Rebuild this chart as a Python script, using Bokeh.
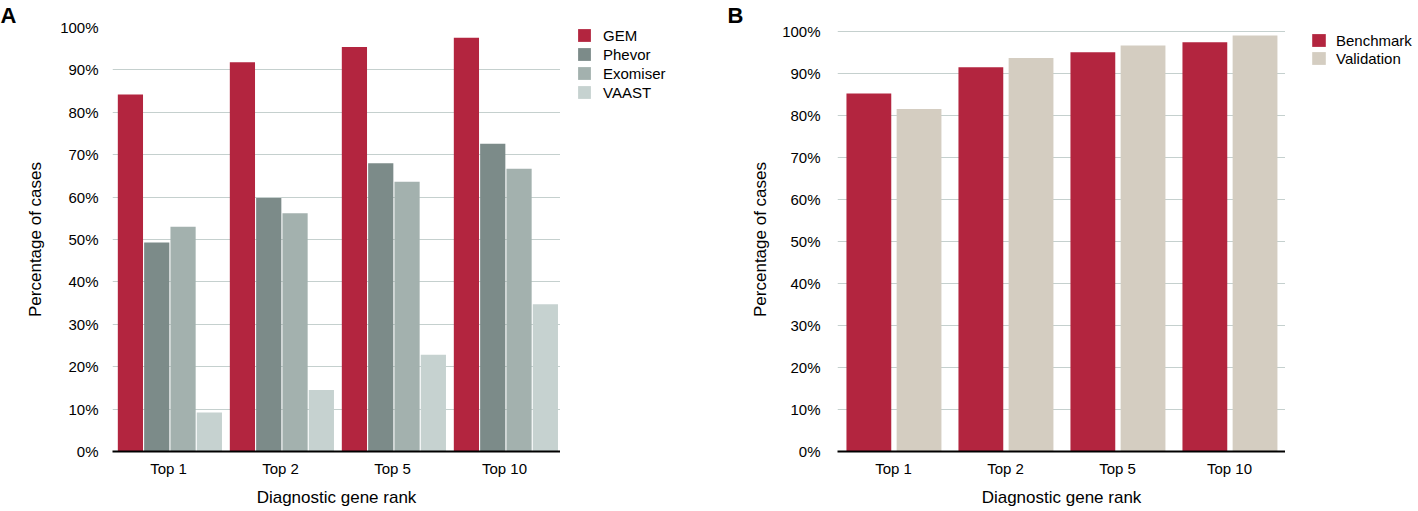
from bokeh.plotting import figure
from bokeh.models import (ColumnDataSource, FactorRange, Legend, LegendItem,
                          FixedTicker, Range1d, Title)
from bokeh.transform import dodge
from bokeh.layouts import row
from bokeh.embed import file_html
from bokeh.resources import INLINE

# ---------------- data ----------------
ranks = ["Top 1", "Top 2", "Top 5", "Top 10"]

# Panel A
gem = [84.2, 91.8, 95.4, 97.6]
phevor = [49.3, 59.8, 68.0, 72.6]
exomiser = [53.0, 56.2, 63.6, 66.7]
vaast = [9.2, 14.5, 22.8, 34.7]

# Panel B
benchmark = [85.2, 91.4, 95.0, 97.4]
validation = [81.5, 93.6, 96.6, 99.0]

y_ticks = [0, 10, 20, 30, 40, 50, 60, 70, 80, 90, 100]
y_tick_labels = ["0%", "10%", "20%", "30%", "40%", "50%", "60%", "70%",
                 "80%", "90%", "100%"]

x_title = "Diagnostic gene rank"
y_title = "Percentage of cases"

# ---------------- style ----------------
FONT = "Liberation Sans"
RED = "#B3253F"
PHEVOR = "#7C8B89"
EXOMISER = "#A3B1AE"
VAAST = "#C6D2D0"
VALID = "#D4CDC1"
GRID = "#C5D0CE"
FIG_H = 509
TOP = 25
BOTTOM = 58
FRAME_H = FIG_H - TOP - BOTTOM


def style(p, ytick_standoff, ylab_standoff, xlab_standoff):
    p.xgrid.grid_line_color = None
    p.ygrid.grid_line_color = GRID
    p.ygrid.grid_line_width = 1
    p.outline_line_color = None
    p.background_fill_color = "white"
    p.border_fill_color = "white"

    xa = p.xaxis[0]
    xa.axis_line_color = "black"
    xa.axis_line_width = 2
    xa.major_tick_line_color = None
    xa.minor_tick_line_color = None
    xa.major_tick_out = 0
    xa.major_tick_in = 0
    xa.major_label_text_font = FONT
    xa.major_label_text_font_size = "15px"
    xa.major_label_text_color = "black"
    xa.major_label_standoff = 8
    xa.axis_label = x_title
    xa.axis_label_text_font = FONT
    xa.axis_label_text_font_size = "17px"
    xa.axis_label_text_font_style = "normal"
    xa.axis_label_text_color = "black"
    xa.axis_label_standoff = xlab_standoff

    ya = p.yaxis[0]
    ya.axis_line_color = None
    ya.major_tick_line_color = None
    ya.minor_tick_line_color = None
    ya.major_tick_out = 0
    ya.major_tick_in = 0
    ya.ticker = FixedTicker(ticks=y_ticks)
    ya.major_label_overrides = {t: l for t, l in zip(y_ticks, y_tick_labels)}
    ya.major_label_text_font = FONT
    ya.major_label_text_font_size = "15px"
    ya.major_label_text_color = "black"
    ya.major_label_standoff = ytick_standoff
    ya.axis_label = y_title
    ya.axis_label_text_font = FONT
    ya.axis_label_text_font_size = "17px"
    ya.axis_label_text_font_style = "normal"
    ya.axis_label_text_color = "black"
    ya.axis_label_standoff = ylab_standoff


def panel_letter(p, letter, offset, standoff):
    p.add_layout(Title(text=letter, align="left", offset=offset,
                       standoff=standoff, text_font=FONT,
                       text_font_size="22px", text_font_style="bold",
                       text_color="black"), "above")


def legend_figure(width, src, entries, loc, glyph_w, spacing, standoff):
    # a narrow plot that only carries the legend, next to its chart
    f = figure(width=width, height=FIG_H, x_range=FactorRange(*ranks),
               y_range=Range1d(-2, -1), output_backend="svg",
               toolbar_location=None, x_axis_location=None,
               y_axis_location=None, min_border_left=0, min_border_right=0,
               min_border_top=TOP, min_border_bottom=BOTTOM)
    f.xgrid.visible = False
    f.ygrid.visible = False
    f.outline_line_color = None
    items = []
    for name, col, color in entries:
        # same series as the chart, placed outside this plot's visible area;
        # only the legend key is shown here
        r = f.vbar(x=dodge("rank", 12, range=f.x_range), top=col,
                   width=0.001, source=src,
                   fill_color=color, line_color=None)
        items.append(LegendItem(label=name, renderers=[r]))
    leg = Legend(items=items, location=loc, orientation="vertical",
                 glyph_width=glyph_w, glyph_height=16, label_height=16,
                 spacing=spacing, label_standoff=standoff, padding=0,
                 margin=0,
                 border_line_alpha=0, background_fill_alpha=0,
                 label_text_font=FONT, label_text_font_size="15px",
                 label_text_color="black")
    f.add_layout(leg, "center")
    return f


# ---------------- panel A ----------------
srcA = ColumnDataSource(dict(rank=ranks, gem=gem, phevor=phevor,
                             exomiser=exomiser, vaast=vaast))

pA = figure(x_range=FactorRange(*ranks), y_range=Range1d(0, 100),
            width=560, height=FIG_H, output_backend="svg",
            toolbar_location=None,
            min_border_left=112, min_border_right=0, min_border_top=TOP,
            min_border_bottom=BOTTOM)
style(pA, 14, 12, 8)

series_A = [("GEM", "gem", RED, -0.34),
            ("Phevor", "phevor", PHEVOR, -0.105),
            ("Exomiser", "exomiser", EXOMISER, 0.13),
            ("VAAST", "vaast", VAAST, 0.365)]
for name, col, color, off in series_A:
    pA.vbar(x=dodge("rank", off, range=pA.x_range), top=col, width=0.225,
            source=srcA, fill_color=color, line_color=None)
panel_letter(pA, "A", -112, 0)

legA_fig = legend_figure(140, srcA, [(s[0], s[1], s[2]) for s in series_A],
                         (16, FRAME_H - 1.5 - 74), 16, 2, 11)

# ---------------- panel B ----------------
srcB = ColumnDataSource(dict(rank=ranks, benchmark=benchmark,
                             validation=validation))

pB = figure(x_range=FactorRange(*ranks), y_range=Range1d(0, 100.88),
            width=585, height=FIG_H, output_backend="svg",
            toolbar_location=None,
            min_border_left=137, min_border_right=0, min_border_top=TOP,
            min_border_bottom=BOTTOM)
style(pB, 17, 9, 8)

series_B = [("Benchmark", "benchmark", RED, -0.22),
            ("Validation", "validation", VALID, 0.228)]
for name, col, color, off in series_B:
    pB.vbar(x=dodge("rank", off, range=pB.x_range), top=col, width=0.40,
            source=srcB, fill_color=color, line_color=None)
panel_letter(pB, "B", -110, 0)

legB_fig = legend_figure(133, srcB, [(s[0], s[1], s[2]) for s in series_B],
                         (25, FRAME_H - 6.5 - 35), 17, 1, 9)

layout = row(pA, legA_fig, pB, legB_fig, spacing=0)
open("out.html", "w").write(file_html(layout, INLINE))
